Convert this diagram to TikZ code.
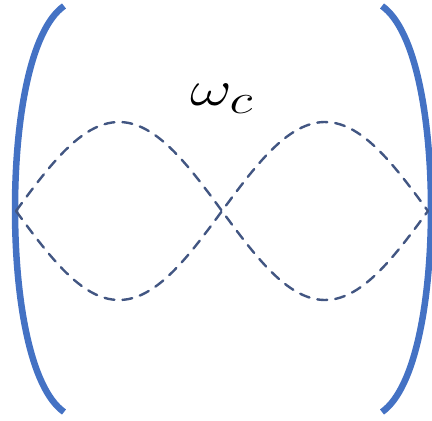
\documentclass[tikz,border=0pt]{standalone}
\usepackage{tikz}
\definecolor{mirror}{RGB}{68,114,196}
\definecolor{wave}{RGB}{66,86,130}
\tikzset{
  mirrorline/.style={draw=mirror, line width=6.5pt},
  waveline/.style={draw=wave, line width=2.4pt, line cap=round, dash pattern=on 10pt off 8pt},
}
\begin{document}
\begin{tikzpicture}[x=1pt,y=-1pt]
\useasboundingbox (0,0) rectangle (432,421);
% mirrors
\draw[mirrorline] (64,6) .. controls (30,30) and (15,120) .. (15,209) .. controls (15,298) and (30,388) .. (64,412);
\draw[mirrorline] (382,6) .. controls (416,30) and (431,120) .. (431,209) .. controls (431,298) and (416,388) .. (382,412);
% waves
\draw[waveline] plot[domain=0:360, samples=100] ({16+\x/360*412}, {211-89*sin(\x)});
\draw[waveline] plot[domain=0:360, samples=100] ({16+\x/360*412}, {211+89*sin(\x)});
% label
\node[font=\Huge, xscale=2.6, yscale=2.0, inner sep=0pt] (lbl) at (222,99) {$\omega_c$};
\end{tikzpicture}
\end{document}
